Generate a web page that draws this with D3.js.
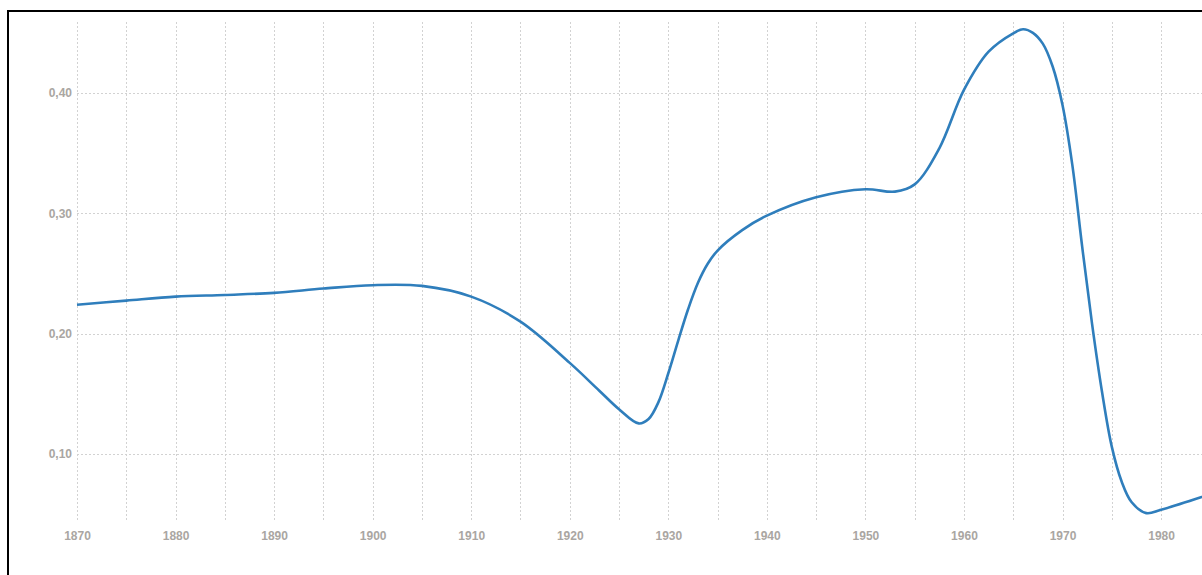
<!DOCTYPE html>
<html>
<head>
<meta charset="utf-8">
<script src="https://cdn.jsdelivr.net/npm/d3@7"></script>
<style>
  html, body { margin: 0; padding: 0; background: #fff; overflow: hidden; }
  svg { display: block; }
  .tick text { font-family: "Liberation Sans", Arial, sans-serif; font-weight: bold; font-size: 12px; fill: #aaa6a2; }
</style>
</head>
<body>
<svg id="chart" width="1202" height="575"></svg>
<script>
// Data
const years = [1870, 1875, 1880, 1885, 1890, 1895, 1900, 1905, 1910, 1915, 1920, 1923, 1925, 1927, 1928, 1929, 1930, 1931, 1932, 1933, 1934, 1935, 1937.5, 1940, 1945, 1950, 1953, 1955, 1957.5, 1960, 1962.5, 1965, 1966, 1967, 1968, 1969, 1970, 1971, 1972, 1973, 1974, 1975, 1976, 1977, 1978.5, 1980, 1985];
const values = [0.224, 0.2274, 0.2307, 0.2321, 0.2338, 0.2374, 0.2402, 0.2396, 0.2307, 0.2099, 0.1756, 0.1525, 0.1371, 0.1253, 0.129, 0.143, 0.167, 0.194, 0.220, 0.242, 0.258, 0.269, 0.286, 0.298, 0.3133, 0.320, 0.318, 0.324, 0.354, 0.4025, 0.4343, 0.4496, 0.453, 0.450, 0.441, 0.422, 0.390, 0.340, 0.272, 0.208, 0.152, 0.106, 0.077, 0.060, 0.0507, 0.0535, 0.0665];
const xTickLabels = [1870, 1880, 1890, 1900, 1910, 1920, 1930, 1940, 1950, 1960, 1970, 1980];
const xGridYears = d3.range(1870, 1990, 5);
const yTickValues = [0.10, 0.20, 0.30, 0.40];

const svg = d3.select("#chart");
const x = d3.scaleLinear().domain([1870, 1990]).range([77, 1259.6]);
const y = d3.scaleLinear().domain([0.045, 0.459]).range([520, 22]);

const locale = d3.formatLocale({decimal: ",", thousands: ".", grouping: [3], currency: ["", ""]});
const fmt = locale.format(".2f");

// border
svg.append("rect")
  .attr("x", 8).attr("y", 11)
  .attr("width", 1300).attr("height", 700)
  .attr("fill", "none").attr("stroke", "#000").attr("stroke-width", 2);

// vertical grid
svg.append("g").selectAll("line").data(xGridYears).join("line")
  .attr("x1", d => Math.round(x(d)) + 0.5).attr("x2", d => Math.round(x(d)) + 0.5)
  .attr("y1", y.range()[1]).attr("y2", y.range()[0])
  .attr("stroke", "#d2d2d2").attr("stroke-width", 1).attr("stroke-dasharray", "2,2");

// horizontal grid
svg.append("g").selectAll("line").data(yTickValues).join("line")
  .attr("x1", x(1870)).attr("x2", 1202)
  .attr("y1", d => Math.round(y(d)) + 0.5).attr("y2", d => Math.round(y(d)) + 0.5)
  .attr("stroke", "#d2d2d2").attr("stroke-width", 1).attr("stroke-dasharray", "2,2");

// y axis labels
const yAxis = d3.axisLeft(y).tickValues(yTickValues).tickFormat(fmt).tickSize(0).tickPadding(5);
const gy = svg.append("g").attr("transform", `translate(${x(1870)},0)`).call(yAxis);
gy.select(".domain").remove();

// x axis labels
const xAxis = d3.axisBottom(x).tickValues(xTickLabels).tickFormat(d3.format("d")).tickSize(0).tickPadding(0);
const gx = svg.append("g").attr("transform", `translate(0,${y.range()[0] + 11})`).call(xAxis);
gx.select(".domain").remove();

// line
const line = d3.line()
  .x((d, i) => x(years[i]))
  .y(d => y(d))
  .curve(d3.curveCatmullRom.alpha(0.5));
svg.append("path")
  .datum(values)
  .attr("d", line)
  .attr("fill", "none")
  .attr("stroke", "#2f7ebc")
  .attr("stroke-width", 2.6)
  .attr("stroke-linejoin", "round");
</script>
</body>
</html>
